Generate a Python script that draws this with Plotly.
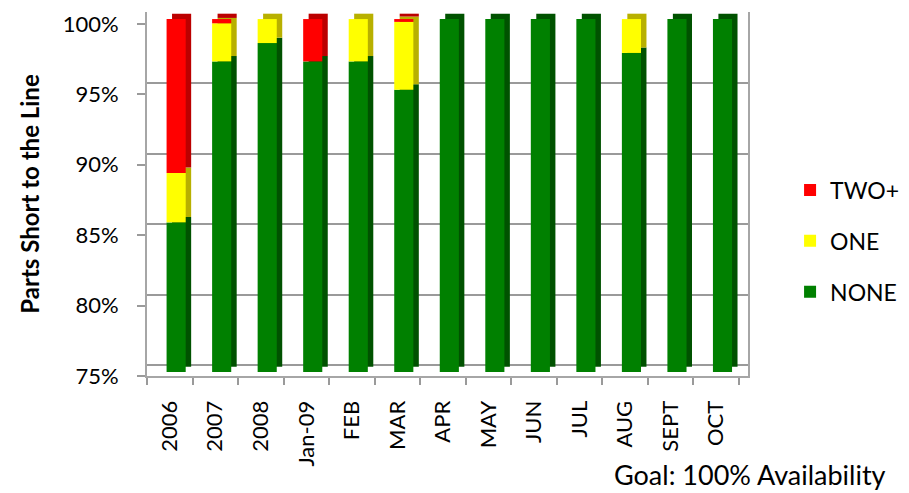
import plotly.graph_objects as go
import numpy as np

categories = ["2006", "2007", "2008", "Jan-09", "FEB", "MAR", "APR", "MAY", "JUN", "JUL", "AUG", "SEPT", "OCT"]
none_vals = [85.6, 97.0, 98.3, 97.0, 97.0, 95.0, 100, 100, 100, 100, 97.6, 100, 100]
one_vals = [3.5, 2.7, 1.7, 0.0, 3.0, 4.8, 0, 0, 0, 0, 2.4, 0, 0]
two_vals = [10.9, 0.3, 0.0, 3.0, 0.0, 0.2, 0, 0, 0, 0, 0, 0, 0]
y_ticks = [75, 80, 85, 90, 95, 100]
y_ticktext = ["75%", "80%", "85%", "90%", "95%", "100%"]

series = [
    ("NONE", none_vals, "#008000", "#005200", 3),
    ("ONE", one_vals, "#FFFF00", "#B8B000", 2),
    ("TWO+", two_vals, "#FF0000", "#BB0000", 1),
]

BASE = 75.0
DEPTH_Y = 0.38      # depth of the 3D effect in value units
DEPTH_X = 0.12      # depth of the 3D effect in category units
BAR_W = 0.42
BAR_OFF = -0.07
FONT = "Lato"

fig = go.Figure()

bases = []
cum = np.full(len(categories), 0.0)
for name, vals, c, dc, rk in series:
    v = np.array(vals, dtype=float)
    bases.append(cum.copy())
    cum = cum + v

# dummy traces to anchor the label and grid axes
fig.add_trace(go.Scatter(x=[categories[0]], y=[None], yaxis="y", showlegend=False, hoverinfo="skip"))
fig.add_trace(go.Scatter(x=[categories[0]], y=[None], yaxis="y3", showlegend=False, hoverinfo="skip"))

# back (side/top) faces
for (name, vals, c, dc, rk), b in zip(series, bases):
    v = np.array(vals, dtype=float)
    base = np.where(b == 0, BASE, b) + DEPTH_Y
    height = np.where(b == 0, v - BASE, v)
    fig.add_trace(go.Bar(
        x=categories, y=height, base=base, yaxis="y2",
        width=BAR_W, offset=BAR_OFF + DEPTH_X,
        marker=dict(color=dc, line=dict(width=0)),
        showlegend=False, legendgroup=name, legendrank=rk, hoverinfo="skip",
    ))

# front faces
for (name, vals, c, dc, rk), b in zip(series, bases):
    v = np.array(vals, dtype=float)
    base = np.where(b == 0, BASE, b)
    height = np.where(b == 0, v - BASE, v)
    fig.add_trace(go.Bar(
        x=categories, y=height, base=base, yaxis="y2",
        width=BAR_W, offset=BAR_OFF,
        marker=dict(color=c, line=dict(width=0)),
        name=name, legendgroup=name, legendrank=rk,
    ))

fig.update_layout(
    width=909, height=493,
    margin=dict(l=147, r=161, t=12, b=117, autoexpand=False),
    barmode="overlay",
    paper_bgcolor="white", plot_bgcolor="white",
    font=dict(family=FONT, size=22, color="black"),
    xaxis=dict(
        type="category", categoryorder="array", categoryarray=categories,
        range=[-0.5, 12.7], tickangle=-90, tickson="boundaries",
        ticks="outside", ticklen=7, tickcolor="#9a9a9a", tickwidth=1.5,
        showline=True, linecolor="#a6a6a6", linewidth=2,
        showgrid=False, ticklabelstandoff=14,
        tickfont=dict(family=FONT, size=22),
    ),
    yaxis=dict(
        range=[75, 100.85], tickvals=y_ticks, ticktext=y_ticktext,
        ticks="outside", ticklen=8, tickcolor="#9a9a9a", tickwidth=1.5,
        showline=True, linecolor="#a6a6a6", linewidth=2,
        showgrid=False, zeroline=False, ticklabelstandoff=14,
        tickfont=dict(family=FONT, size=22),
        title=dict(text="<b>Parts Short to the Line</b>", standoff=16,
                   font=dict(family=FONT, size=24)),
    ),
    yaxis2=dict(
        range=[74.72, 100.5], overlaying="y", visible=False,
    ),
    yaxis3=dict(
        range=[74.25, 100.03], overlaying="y", side="right",
        tickvals=y_ticks, showticklabels=False, ticks="",
        showgrid=True, gridcolor="#9a9a9a", gridwidth=2,
        showline=True, linecolor="#a6a6a6", linewidth=2, zeroline=False,
    ),
    legend=dict(
        x=1.07, y=0.371, xanchor="left", yanchor="middle",
        traceorder="grouped", tracegroupgap=18,
        font=dict(family=FONT, size=23), bgcolor="rgba(0,0,0,0)",
    ),
    showlegend=True,
    annotations=[dict(
        text="Goal: 100% Availability", xref="paper", yref="paper",
        x=1.0025, y=-0.3214, xanchor="center", yanchor="bottom", showarrow=False,
        font=dict(family=FONT, size=27),
    )],
)

fig.write_html("out.html")
